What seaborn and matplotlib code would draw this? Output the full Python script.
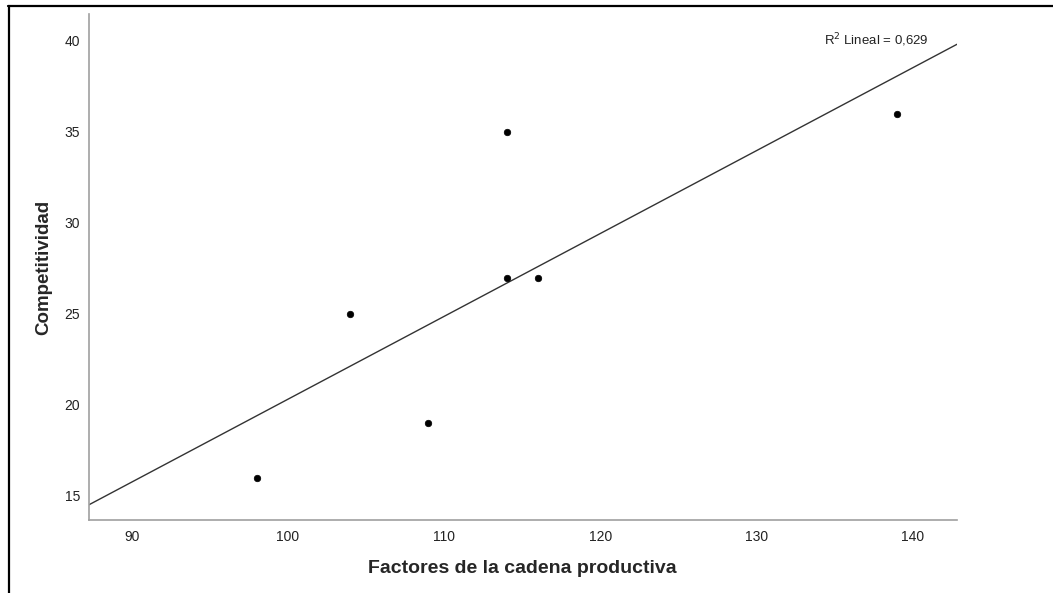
import matplotlib
matplotlib.use("Agg")
import matplotlib.pyplot as plt
import seaborn as sns
import numpy as np
import pandas as pd
from matplotlib.lines import Line2D

factores = [98, 104, 109, 114, 114, 116, 139]
competitividad = [16, 25, 19, 35, 27, 27, 36]
x_ticks = [90, 100, 110, 120, 130, 140]
y_ticks = [15, 20, 25, 30, 35, 40]
x_label = "Factores de la cadena productiva"
y_label = "Competitividad"

df = pd.DataFrame({"x": factores, "y": competitividad})

sns.set_style("white")
plt.rcParams['font.family'] = ['Liberation Sans', 'DejaVu Sans']

fig = plt.figure(figsize=(10.53, 5.93), dpi=100)
ax = fig.add_axes([88.5/1053, 1-520/593, (957-88.5)/1053, (520-14)/593])

ax.set_xlim(87.23, 142.84)
ax.set_ylim(13.68, 41.48)

sns.regplot(data=df, x="x", y="y", ax=ax, scatter=False, ci=None, truncate=False,
            line_kws=dict(color="#333333", lw=1.0))
sns.scatterplot(data=df, x="x", y="y", ax=ax, color="black", s=22, edgecolor="black",
                linewidth=0.5, zorder=3)

ax.set_xlim(87.23, 142.84)
ax.set_ylim(13.68, 41.48)
ax.set_xticks(x_ticks)
ax.set_yticks(y_ticks)
ax.tick_params(axis="both", length=0, labelsize=10, colors="#222222")
ax.tick_params(axis="x", pad=7)
ax.tick_params(axis="y", pad=6)

for s in ["top", "right"]:
    ax.spines[s].set_visible(False)
for s in ["left", "bottom"]:
    ax.spines[s].set_color("#a0a0a0")
    ax.spines[s].set_linewidth(1.2)

ax.set_xlabel(x_label, fontsize=14, fontweight="bold", labelpad=12)
ax.set_ylabel(y_label, fontsize=13.5, fontweight="bold", labelpad=9)

# R squared annotation computed from the data
r = np.corrcoef(factores, competitividad)[0, 1]
r2_txt = f"R$^2$ Lineal = {r**2:.3f}".replace(".", ",")
ax.text(929/1053, 1-40/593, r2_txt, transform=fig.transFigure, ha="right", va="center",
        fontsize=9.5, color="#222222")

# figure border (top and left)
fig.add_artist(Line2D([8/1053, 1], [1-5.5/593, 1-5.5/593], transform=fig.transFigure,
                      color="black", lw=1.6))
fig.add_artist(Line2D([9/1053, 9/1053], [0, 1-5.5/593], transform=fig.transFigure,
                      color="black", lw=1.6))

fig.savefig("out.png", dpi=100)
